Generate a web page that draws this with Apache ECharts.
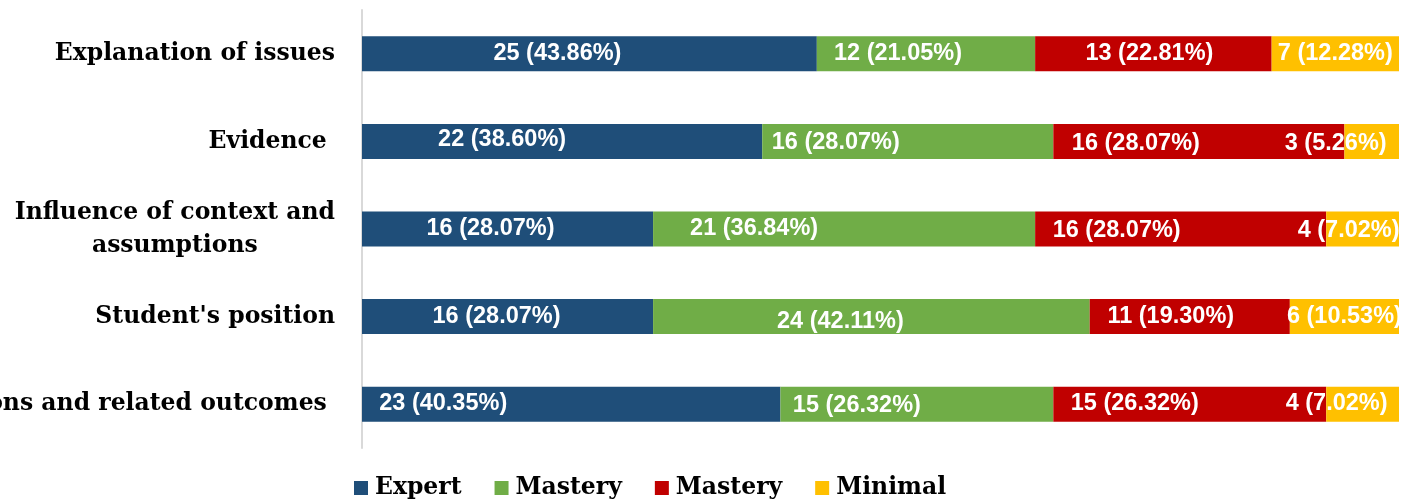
<!DOCTYPE html>
<html>
<head>
<meta charset="utf-8">
<title>Critical thinking rubric</title>
<script src="https://cdn.jsdelivr.net/npm/echarts@6/dist/echarts.min.js"></script>
<style>
  html, body { margin: 0; padding: 0; background: #fff; }
  #chart { width: 1411px; height: 503px; }
</style>
</head>
<body>
<div id="chart"></div>
<script>
// criteria, top to bottom
const categories = [
  'Explanation of issues',
  'Evidence ',
  'Influence of context and\nassumptions',
  "Student's position",
  'Conclusions and related outcomes '
]
// two levels share the label "Mastery", the zero-width space keeps the legend entries apart
const seriesNames = ['Expert', 'Mastery', 'Mastery\u200b', 'Minimal']
const expert = [25, 22, 16, 16, 23]
const masteryHigh = [12, 16, 21, 24, 15]
const masteryLow = [13, 16, 16, 11, 15]
const minimal = [7, 3, 4, 6, 4]
const total = 57

const colors = ['#1F4E79', '#70AD47', '#C00000', '#FFC000']

// hand-placed label shifts from the original chart, [dx, dy] per series / row
const labelShift = [
  [[-32, 0], [-60, -2], [-17, 0], [-11, 0], [-128, -1]],
  [[-28, 0], [-72, 1], [-90, 0], [-31, 5], [-60, 1]],
  [[-4, 0], [-63, 2], [-64, 2], [-19, 0], [-55, -1]],
  [[0, 0], [-36, 2], [-14, 2], [0, 0], [-26, -1]]
]

const serif = '"DejaVu Serif", serif'
const values = [expert, masteryHigh, masteryLow, minimal]

const chart = echarts.init(document.getElementById('chart'))
chart.setOption({
  animation: false,
  color: colors,
  grid: {
    left: 362,
    right: 12,
    top: 10,
    bottom: 55,
    outerBoundsMode: 'none'
  },
  legend: {
    left: 349,
    top: 471,
    icon: 'rect',
    itemWidth: 14,
    itemHeight: 14,
    itemGap: 33,
    data: seriesNames,
    formatter: name => name.replace('\u200b', ''),
    textStyle: {
      fontFamily: serif,
      fontWeight: 'bold',
      fontSize: 23.5,
      color: '#000',
      padding: [0, 0, 0, 2]
    }
  },
  xAxis: {
    type: 'value',
    min: 0,
    max: total,
    show: false
  },
  yAxis: {
    type: 'category',
    inverse: true,
    data: categories,
    axisTick: { show: false },
    axisLine: {
      show: true,
      lineStyle: { color: '#D9D9D9', width: 2 }
    },
    axisLabel: {
      margin: 27,
      fontFamily: serif,
      fontWeight: 'bold',
      fontSize: 23.5,
      color: '#000',
      formatter: val => {
        if (val.indexOf('\n') < 0) return val
        // multi-line label is centred line by line
        return val.split('\n').map(s => '{c|' + s + '}').join('\n')
      },
      rich: {
        c: {
          align: 'center',
          fontFamily: serif,
          fontWeight: 'bold',
          fontSize: 23.5,
          lineHeight: 33,
          color: '#000'
        }
      }
    }
  },
  series: seriesNames.map((name, si) => ({
    name: name,
    type: 'bar',
    stack: 'total',
    barWidth: 35,
    data: values[si].map((v, ri) => ({
      value: v,
      label: { offset: labelShift[si][ri] }
    })),
    label: {
      show: true,
      position: 'inside',
      color: '#fff',
      fontFamily: '"Liberation Sans", Arial, sans-serif',
      fontWeight: 'bold',
      fontSize: 23.5,
      formatter: p => p.value + ' (' + (p.value / total * 100).toFixed(2) + '%)'
    }
  }))
})
</script>
</body>
</html>
